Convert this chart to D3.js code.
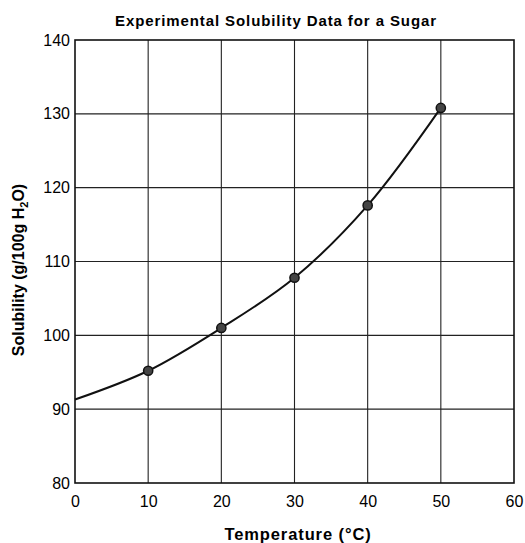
<!DOCTYPE html>
<html>
<head>
<meta charset="utf-8">
<script src="https://cdn.jsdelivr.net/npm/d3@7"></script>
<style>
	body { margin: 0; background: #fff; }
	text { font-family: "Liberation Sans", Arial, sans-serif; fill: #000; }
</style>
</head>
<body>
<svg id="chart" width="525" height="543"></svg>
<script>
// data
var temps = [10, 20, 30, 40, 50];
var solubility = [95.2, 101, 107.8, 117.6, 130.8];
// the curve is drawn from the y-axis, no marker there
var curveStart = [0, 91.3];
var xTicks = [0, 10, 20, 30, 40, 50, 60];
var yTicks = [80, 90, 100, 110, 120, 130, 140];

var svg = d3.select("#chart");
var margin = {left: 75, right: 11, top: 40, bottom: 60};
var width = 525 - margin.left - margin.right,
	height = 543 - margin.top - margin.bottom;

var x = d3.scaleLinear().domain([0, 60]).range([margin.left, margin.left + width]);
var y = d3.scaleLinear().domain([80, 140]).range([margin.top + height, margin.top]);

// grid
var grid = svg.append("g");
grid.selectAll(".vg")
	.data(xTicks.slice(1, -1))
	.enter()
	.append("line")
	.attr("x1", function(d){ return x(d); })
	.attr("x2", function(d){ return x(d); })
	.attr("y1", y(80))
	.attr("y2", y(140))
	.style("stroke", "#222")
	.style("stroke-width", 1.1);
grid.selectAll(".hg")
	.data(yTicks.slice(1, -1))
	.enter()
	.append("line")
	.attr("y1", function(d){ return y(d); })
	.attr("y2", function(d){ return y(d); })
	.attr("x1", x(0))
	.attr("x2", x(60))
	.style("stroke", "#222")
	.style("stroke-width", 1.1);

// frame
svg.append("rect")
	.attr("x", x(0))
	.attr("y", y(140))
	.attr("width", x(60) - x(0))
	.attr("height", y(80) - y(140))
	.style("fill", "none")
	.style("stroke", "#111")
	.style("stroke-width", 1.6);

// axes (labels only, the frame is the axis line)
var xAxis = svg.append("g")
	.attr("transform", "translate(0," + y(80) + ")")
	.call(d3.axisBottom(x).tickValues(xTicks).tickSize(0).tickPadding(13));
var yAxis = svg.append("g")
	.attr("transform", "translate(" + x(0) + ",0)")
	.call(d3.axisLeft(y).tickValues(yTicks).tickSize(0).tickPadding(5));
[xAxis, yAxis].forEach(function(a){
	a.select(".domain").remove();
	a.selectAll("text").style("font-size", "16px").style("font-family", "Liberation Sans, Arial, sans-serif").attr("fill", "#000");
});

// curve
var pts = [curveStart].concat(temps.map(function(t, i){ return [t, solubility[i]]; }));
var line = d3.line()
	.x(function(d){ return x(d[0]); })
	.y(function(d){ return y(d[1]); })
	.curve(d3.curveCatmullRom.alpha(0.5));
svg.append("path")
	.attr("d", line(pts))
	.style("fill", "none")
	.style("stroke", "#111")
	.style("stroke-width", 2);

// points
svg.append("g").selectAll("circle")
	.data(temps)
	.enter()
	.append("circle")
	.attr("cx", function(d){ return x(d); })
	.attr("cy", function(d, i){ return y(solubility[i]); })
	.attr("r", 4.6)
	.style("fill", "#444")
	.style("stroke", "#111")
	.style("stroke-width", 1.5);

// titles
svg.append("text")
	.attr("x", 276)
	.attr("y", 26)
	.attr("text-anchor", "middle")
	.style("font-size", "15px")
	.style("letter-spacing", "0.9px")
	.style("font-weight", "bold")
	.text("Experimental Solubility Data for a Sugar");

svg.append("text")
	.attr("x", 298)
	.attr("y", 540)
	.attr("text-anchor", "middle")
	.style("font-size", "16.5px")
	.style("letter-spacing", "0.9px")
	.style("font-weight", "bold")
	.text("Temperature (°C)");

var ylab = svg.append("text")
	.attr("transform", "translate(24,270) rotate(-90)")
	.attr("text-anchor", "middle")
	.style("font-size", "16px")
	.style("font-weight", "bold");
ylab.append("tspan").text("Solubility (g/100g H");
ylab.append("tspan").attr("dy", 4).style("font-size", "11px").text("2");
ylab.append("tspan").attr("dy", -4).text("O)");
</script>
</body>
</html>
